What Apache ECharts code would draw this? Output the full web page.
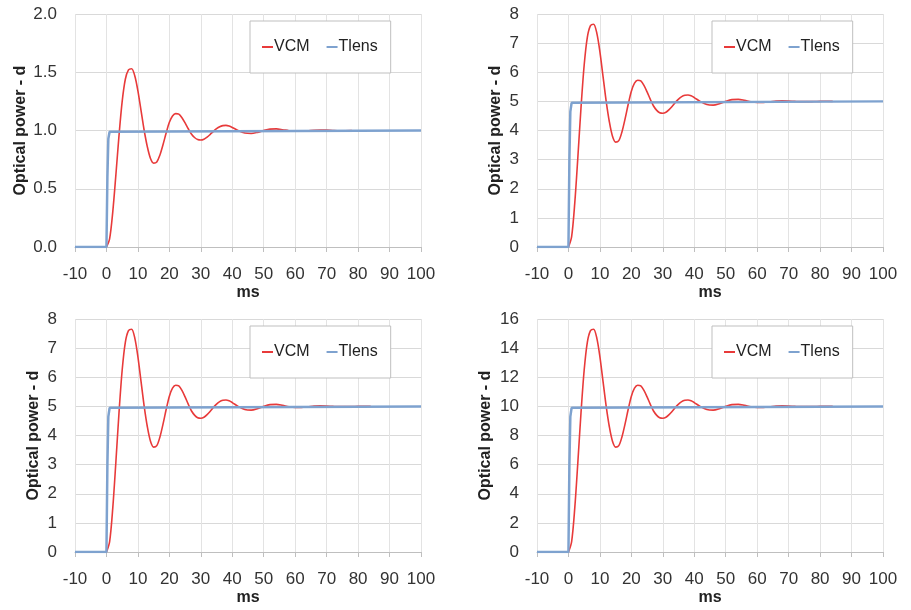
<!DOCTYPE html>
<html>
<head>
<meta charset="utf-8">
<script src="https://cdn.jsdelivr.net/npm/echarts@6/dist/echarts.min.js"></script>
<style>html,body{margin:0;padding:0;background:#fff}#c{width:911px;height:610px}</style>
</head>
<body>
<div id="c"></div>
<script>
// time samples (ms) for the VCM response
var timeMs = [0,1,2,3,4,5,6,7,8,9,10,11,12,13,14,15,16,17,18,19,20,21,22,23,24,25,26,27,28,29,30,31,32,33,34,35,36,37,38,39,40,42,44,46,48,50,52,54,56,58,60,62,64,66,68,70,72,74,76,78,80,82,84];

// Panel 1 (1 d step)
var vcm1 = [0,0.07,0.30,0.62,0.96,1.25,1.44,1.52,1.53,1.47,1.34,1.17,1.00,0.86,0.76,0.72,0.73,0.79,0.88,0.98,1.07,1.125,1.145,1.14,1.11,1.065,1.015,0.97,0.94,0.922,0.918,0.925,0.943,0.967,0.993,1.016,1.033,1.042,1.044,1.038,1.026,0.998,0.978,0.974,0.984,1.000,1.012,1.014,1.007,0.998,0.993,0.993,0.997,1.002,1.004,1.003,1.000,0.998,0.998,0.999];
// Panels 2 and 3 (5 d step)
var vcm5 = [0,0.35,1.5,3.1,4.8,6.25,7.2,7.6,7.65,7.35,6.7,5.85,5.0,4.3,3.8,3.6,3.65,3.95,4.4,4.9,5.35,5.625,5.725,5.7,5.55,5.325,5.075,4.85,4.7,4.61,4.59,4.625,4.715,4.835,4.965,5.08,5.165,5.21,5.22,5.19,5.13,4.99,4.89,4.87,4.92,5.0,5.06,5.07,5.035,4.99,4.965,4.965,4.985,5.01,5.02,5.015,5.0,4.99,4.99,4.995,5.0,5.005,5.0];
// Panel 4 (10 d step)
var vcm10 = [0,0.7,3.0,6.2,9.6,12.5,14.4,15.2,15.3,14.7,13.4,11.7,10.0,8.6,7.6,7.2,7.3,7.9,8.8,9.8,10.7,11.25,11.45,11.4,11.1,10.65,10.15,9.7,9.4,9.22,9.18,9.25,9.43,9.67,9.93,10.16,10.33,10.42,10.44,10.38,10.26,9.98,9.78,9.74,9.84,10.0,10.12,10.14,10.07,9.98,9.93,9.93,9.97,10.02,10.04,10.03,10.0,9.98,9.98,9.99,10.0,10.01,10.0];

// Tlens step response
var tlensTime = [-10,0,0.3,0.6,1,1.5,100];
var tlens1 = [0,0,0.6,0.93,0.99,1,1];
var tlens5 = [0,0,3.0,4.65,4.95,5,5];
var tlens10 = [0,0,6.0,9.3,9.9,10,10];

var xTicks = {min:-10, max:100, interval:10};
var yScales = [
  {min:0, max:2, interval:0.5, dec:1},
  {min:0, max:8, interval:1, dec:0},
  {min:0, max:8, interval:1, dec:0},
  {min:0, max:16, interval:2, dec:0}
];

function pairs(xs, ys){ var out=[]; for(var i=0;i<ys.length;i++) out.push([xs[i], ys[i]]); return out; }

var vcmData = [vcm1, vcm5, vcm5, vcm10];
var tlensData = [tlens1, tlens5, tlens5, tlens10];

var grids = [
  {left:75, right:490, top:14, bottom:363},
  {left:537, right:28, top:14, bottom:363},
  {left:75, right:490, top:319, bottom:58},
  {left:537, right:28, top:319, bottom:58}
];
var yNameGaps = [46, 33, 33, 43];
var legendPos = [
  {left:250, top:21},
  {left:712, top:21},
  {left:250, top:326},
  {left:712, top:326}
];

var FONT = 'Liberation Sans, Arial, sans-serif';
var RED = '#e83a3a', BLUE = '#7ea2cf';

var option = {
  animation:false,
  backgroundColor:'#fff',
  grid: grids,
  xAxis: [], yAxis: [], series: [], legend: []
};
for (var p=0;p<4;p++){
  option.xAxis.push({
    type:'value', gridIndex:p, min:xTicks.min, max:xTicks.max, interval:xTicks.interval,
    name:'ms', nameLocation:'middle', nameGap:38,
    nameTextStyle:{fontFamily:FONT, fontSize:16, fontWeight:'bold', color:'#222'},
    axisLine:{show:true, lineStyle:{color:'#bfbfbf', width:1}},
    axisTick:{show:true, length:5, lineStyle:{color:'#bfbfbf'}},
    axisLabel:{fontFamily:FONT, fontSize:17, color:'#333', margin:19},
    splitLine:{show:true, lineStyle:{color:'#e3e3e3', width:1}}
  });
  var ys = yScales[p];
  option.yAxis.push({
    type:'value', gridIndex:p, min:ys.min, max:ys.max, interval:ys.interval,
    name:'Optical power - d', nameLocation:'middle', nameGap:yNameGaps[p], nameRotate:90,
    nameTextStyle:{fontFamily:FONT, fontSize:16, fontWeight:'bold', color:'#222'},
    axisLine:{show:false}, axisTick:{show:false},
    axisLabel:{fontFamily:FONT, fontSize:17, color:'#333', margin:18,
      formatter:(function(d){return function(v){return v.toFixed(d);};})(ys.dec)},
    splitLine:{show:true, lineStyle:{color:'#d9d9d9', width:1}}
  });
  option.series.push({
    name:'VCM', type:'line', xAxisIndex:p, yAxisIndex:p, showSymbol:false, symbol:'none', smooth:0.3,
    data: pairs(timeMs, vcmData[p]), lineStyle:{color:RED, width:1.6}, itemStyle:{color:RED}, z:2
  });
  option.series.push({
    name:'Tlens', type:'line', xAxisIndex:p, yAxisIndex:p, showSymbol:false, symbol:'none',
    data: pairs(tlensTime, tlensData[p]), lineStyle:{color:BLUE, width:2.5}, itemStyle:{color:BLUE}, z:3
  });
  option.legend.push({
    left:legendPos[p].left, top:legendPos[p].top, orient:'horizontal',
    data:['VCM','Tlens'], icon:'rect', itemWidth:11, itemHeight:2, itemGap:17,
    padding:[18,13,18,12], borderColor:'#bfbfbf', borderWidth:1, backgroundColor:'#fff',
    textStyle:{fontFamily:FONT, fontSize:16, color:'#222', padding:[0,0,0,-4]},
    selectedMode:false
  });
}
var chart = echarts.init(document.getElementById('c'), null, {renderer:'canvas'});
chart.setOption(option);
</script>
</body>
</html>
